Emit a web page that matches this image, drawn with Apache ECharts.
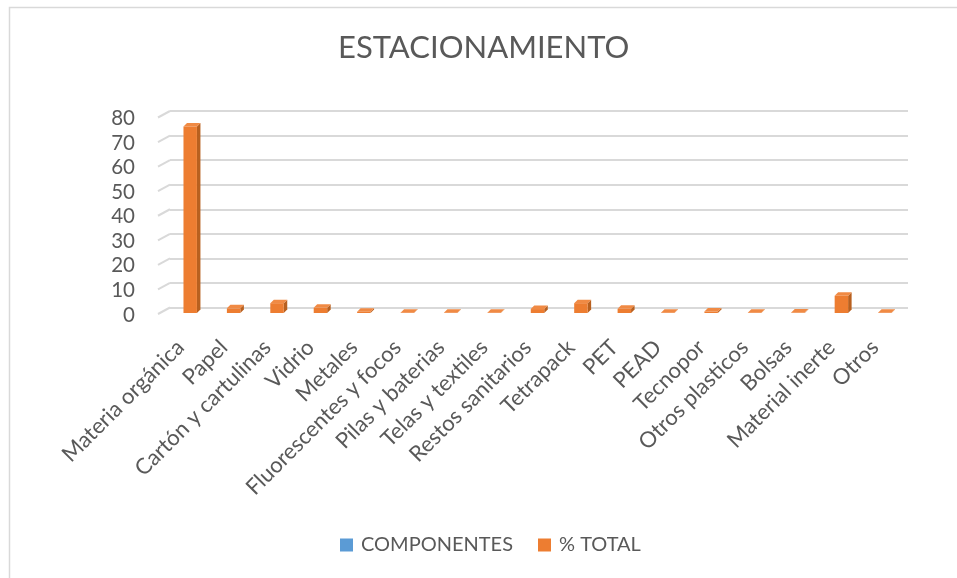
<!DOCTYPE html>
<html>
<head>
<meta charset="utf-8">
<script src="https://cdn.jsdelivr.net/npm/echarts@6/dist/echarts.min.js"></script>
<style>
  html, body { margin: 0; padding: 0; background: #fff; }
  #chart { width: 957px; height: 578px; }
</style>
</head>
<body>
<div id="chart"></div>
<script>
// Waste components measured at the parking area (% of total)
const categories = [
  'Materia orgánica', 'Papel', 'Cartón y cartulinas', 'Vidrio', 'Metales',
  'Fluorescentes y focos', 'Pilas y baterias', 'Telas y textiles',
  'Restos sanitarios', 'Tetrapack', 'PET', 'PEAD', 'Tecnopor',
  'Otros plasticos', 'Bolsas', 'Material inerte', 'Otros'
];
const porcentajeTotal = [75.9, 1.9, 4.0, 2.1, 0.5, 0.1, 0.1, 0.1, 1.6, 4.0, 1.7, 0.1, 0.6, 0.1, 0.2, 7.0, 0.1];
const componentes = [];
const yTicks = [0, 10, 20, 30, 40, 50, 60, 70, 80];

const TEXT = '#595959';
const FONT = 'Lato';
const ORANGE = '#ED7D31';
const ORANGE_SIDE = '#B8601F';
const ORANGE_TOP = '#F08A44';
const BLUE = '#5B9BD5';

// pseudo-3D offsets
const FRONT_DX = -1.5, FRONT_DY = 5.5;   // bars stand in the middle of the floor
const DEPTH = 3.5;                        // bar depth
const FLOOR_DX = 12, FLOOR_DY = 6.5;      // left wall slant of the gridlines

function renderBar(params, api) {
  const cat = api.value(0);
  const val = api.value(1);
  const top = api.coord([cat, val]);
  const base = api.coord([cat, 0]);
  const w = api.size([1, 0])[0] * 0.31;
  const x0 = top[0] - w / 2 + FRONT_DX;
  const x1 = x0 + w;
  const yt = top[1] + FRONT_DY;
  const yb = base[1] + FRONT_DY;
  return {
    type: 'group',
    children: [
      { type: 'polygon', shape: { points: [[x1, yt], [x1 + DEPTH, yt - DEPTH], [x1 + DEPTH, yb - DEPTH], [x1, yb]] },
        style: { fill: ORANGE_SIDE } },
      { type: 'polygon', shape: { points: [[x0, yt], [x0 + DEPTH, yt - DEPTH], [x1 + DEPTH, yt - DEPTH], [x1, yt]] },
        style: { fill: ORANGE_TOP } },
      { type: 'rect', shape: { x: x0, y: yt, width: w, height: yb - yt },
        style: { fill: ORANGE } }
    ]
  };
}

function renderWall(params, api) {
  const v = api.value(1);
  const p = api.coord([0, v]);
  const left = p[0] - api.size([1, 0])[0] / 2;
  return {
    type: 'line',
    shape: { x1: left - FLOOR_DX, y1: p[1] + FLOOR_DY, x2: left, y2: p[1] },
    style: { stroke: '#D9D9D9', lineWidth: 2 }
  };
}

const chart = echarts.init(document.getElementById('chart'), null, { renderer: 'canvas' });
chart.setOption({
  backgroundColor: '#fff',
  animation: false,
  title: {
    text: 'ESTACIONAMIENTO',
    left: 333,
    top: 27,
    textStyle: { color: TEXT, fontFamily: FONT, fontSize: 31, fontWeight: 'normal' }
  },
  legend: {
    left: 335,
    top: 530,
    itemWidth: 13,
    itemHeight: 13,
    itemGap: 25,
    icon: 'rect',
    data: ['COMPONENTES', '% TOTAL'],
    textStyle: { color: TEXT, fontFamily: FONT, fontSize: 20, padding: [0, 0, 0, 3] }
  },
  graphic: [{
    type: 'rect', left: 7, top: 5, silent: true,
    shape: { width: 960, height: 600 },
    style: { fill: 'none', stroke: '#D9D9D9', lineWidth: 1.5 }
  }],
  grid: { left: 170, right: 49, top: 111, bottom: 270.5 },
  xAxis: {
    type: 'category',
    data: categories,
    axisLine: { show: false },
    axisTick: { show: false },
    axisLabel: {
      interval: 0, rotate: 45, margin: 25,
      padding: [0, 16, 0, 0],
      color: TEXT, fontFamily: FONT, fontSize: 22
    }
  },
  yAxis: {
    type: 'value',
    min: 0, max: 80, interval: 10,
    axisLine: { show: false },
    axisTick: { show: false },
    axisLabel: {
      margin: 35, color: TEXT, fontFamily: FONT, fontSize: 20.5,
      verticalAlign: 'top', lineHeight: 15
    },
    splitLine: { lineStyle: { color: '#D9D9D9', width: 2 } }
  },
  series: [
    {
      name: 'COMPONENTES',
      type: 'custom',
      itemStyle: { color: BLUE },
      renderItem: renderBar,
      data: componentes
    },
    {
      name: 'wall',
      type: 'custom',
      silent: true,
      renderItem: renderWall,
      data: yTicks.map(v => [0, v]),
      z: 1
    },
    {
      name: '% TOTAL',
      type: 'custom',
      itemStyle: { color: ORANGE },
      renderItem: renderBar,
      encode: { x: 0, y: 1 },
      data: porcentajeTotal.map((v, i) => [i, v]),
      z: 3
    }
  ]
});
</script>
</body>
</html>
